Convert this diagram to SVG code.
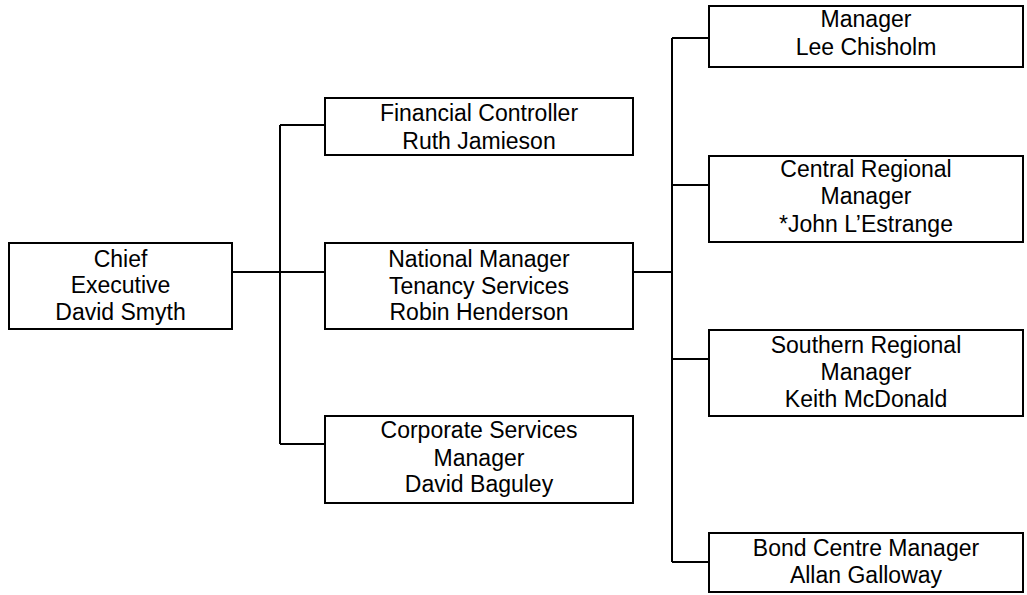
<svg xmlns="http://www.w3.org/2000/svg" width="1027" height="595" viewBox="0 0 1027 595">
<style>
.box{fill:#fff;stroke:#000;stroke-width:2}
.ln{fill:none;stroke:#000;stroke-width:2}
text{font-family:"Liberation Sans",Arial,sans-serif;font-size:23px;fill:#000;text-anchor:middle}
</style>
<rect width="1027" height="595" fill="#fff"/>
<g id="connectors">
<path class="ln" d="M232,272 H325 M280,125 V444 M280,125 H325 M280,444 H325"/>
<path class="ln" d="M633,272 H672 M672,38 V562 M672,38 H709 M672,185 H709 M672,359 H709 M672,562 H709"/>
</g>
<g id="chief">
<rect class="box" x="9" y="243" width="223" height="86"/>
<text x="120.5" y="267">Chief</text>
<text x="120.5" y="293">Executive</text>
<text x="120.5" y="320">David Smyth</text>
</g>
<g id="financial">
<rect class="box" x="325" y="98" width="308" height="57"/>
<text x="479" y="121">Financial Controller</text>
<text x="479" y="149">Ruth Jamieson</text>
</g>
<g id="national">
<rect class="box" x="325" y="243" width="308" height="86"/>
<text x="479" y="267">National Manager</text>
<text x="479" y="294">Tenancy Services</text>
<text x="479" y="320">Robin Henderson</text>
</g>
<g id="corporate">
<rect class="box" x="325" y="416" width="308" height="87"/>
<text x="479" y="438">Corporate Services</text>
<text x="479" y="466">Manager</text>
<text x="479" y="492">David Baguley</text>
</g>
<g id="lee">
<rect class="box" x="709" y="6" width="314" height="61"/>
<text x="866" y="27">Manager</text>
<text x="866" y="55">Lee Chisholm</text>
</g>
<g id="central">
<rect class="box" x="709" y="156" width="314" height="86"/>
<text x="866" y="177">Central Regional</text>
<text x="866" y="204">Manager</text>
<text x="866" y="232">*John L’Estrange</text>
</g>
<g id="southern">
<rect class="box" x="709" y="330" width="314" height="86"/>
<text x="866" y="353">Southern Regional</text>
<text x="866" y="380">Manager</text>
<text x="866" y="407">Keith McDonald</text>
</g>
<g id="bond">
<rect class="box" x="709" y="533" width="314" height="59"/>
<text x="866" y="556">Bond Centre Manager</text>
<text x="866" y="583">Allan Galloway</text>
</g>
</svg>
